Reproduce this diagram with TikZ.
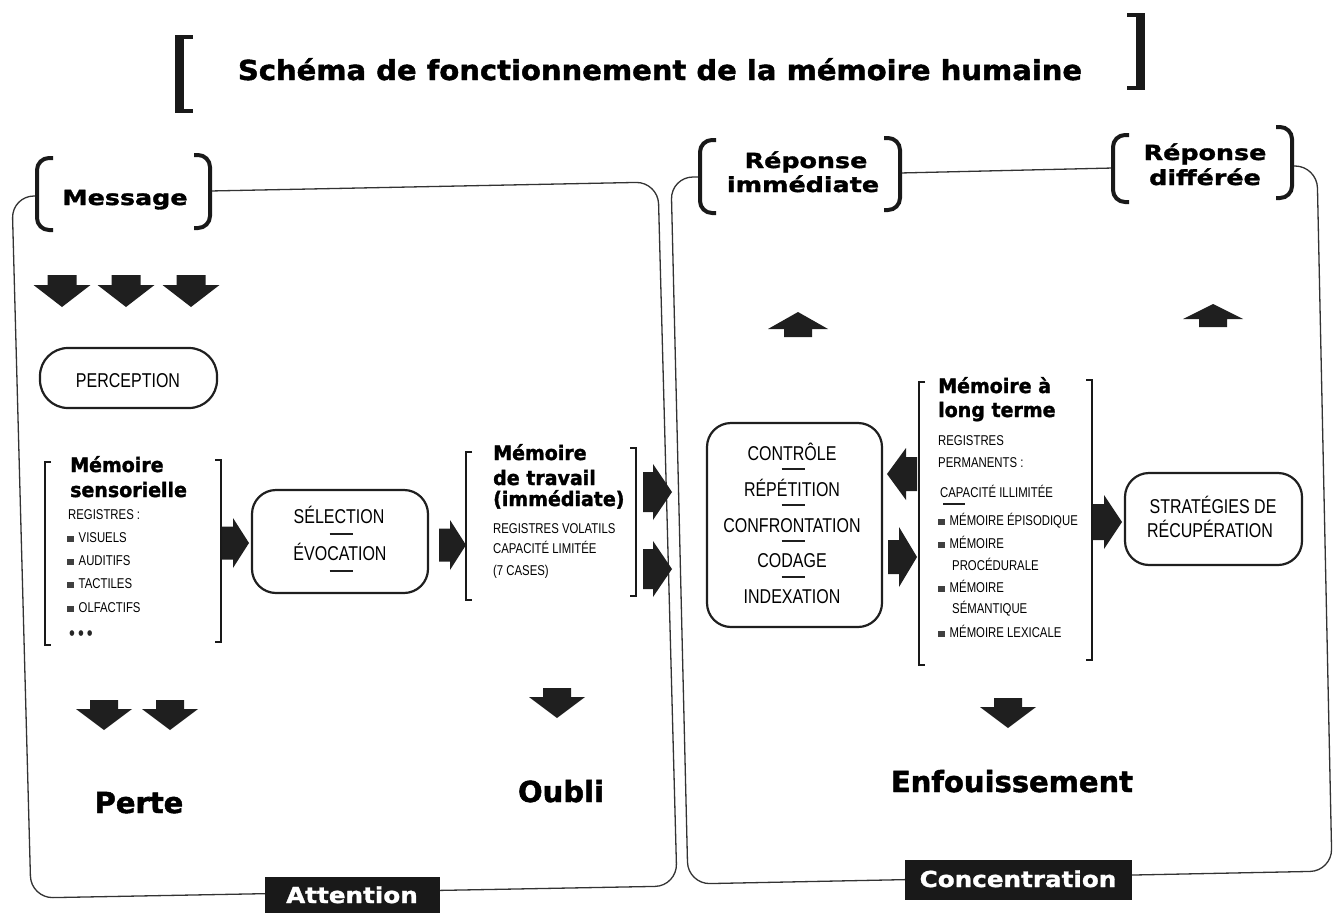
\documentclass[tikz,border=0pt]{standalone}
\usepackage{fontspec}
\setmainfont{Liberation Sans}
\newfontfamily\cnd[FakeStretch=0.8]{Liberation Sans}
\newfontfamily\hvbig[BoldFeatures={FakeBold=1.6}]{DejaVu Sans}
\newfontfamily\hvhead[FakeStretch=0.95,BoldFeatures={FakeBold=1.6}]{DejaVu Sans}
\newfontfamily\hvwide[FakeStretch=1.22,BoldFeatures={FakeBold=1.6}]{DejaVu Sans}
\newfontfamily\hvtitle[FakeStretch=1.055,BoldFeatures={FakeBold=1.6}]{DejaVu Sans}
\newfontfamily\hvtag[FakeStretch=1.12,BoldFeatures={FakeBold=1.4}]{DejaVu Sans}
\newcommand\sqb{{\color{black!75}\rule{6.5pt}{6.5pt}}\hspace{5pt}}
\begin{document}
\begin{tikzpicture}[x=1pt,y=-1pt,
  outline/.style={line width=1.3pt, draw=black!80, rounded corners=22pt},
  paren/.style={line width=4pt, draw=black!90, rounded corners=12pt},
  sqbr/.style={line width=2pt, draw=black!90},
  rbox/.style={draw=black!88, line width=2.2pt, rounded corners=24pt, inner sep=0pt},
  pill/.style={draw=black!88, line width=2.2pt, rounded corners=28pt, inner sep=0pt},
  bar/.style={line width=2.6pt, draw=black!88},
  capL/.style={font=\cnd\fontsize{20}{24}\selectfont, inner sep=0pt, anchor=base},
  capS/.style={font=\cnd\fontsize{14.2}{16}\selectfont, inner sep=0pt, anchor=base west},
  head/.style={font=\hvhead\bfseries\fontsize{20}{24}\selectfont, inner sep=0pt, anchor=base west},
  big/.style={font=\hvbig\bfseries\fontsize{29}{32}\selectfont, inner sep=0pt, anchor=base},
  wide/.style={font=\hvwide\bfseries\fontsize{20.8}{24}\selectfont, inner sep=0pt, anchor=base},
  ttl/.style={font=\hvtitle\bfseries\fontsize{27.5}{30}\selectfont, inner sep=0pt, anchor=base},
  tagbox/.style={fill=black!90, inner sep=0pt},
  tagtext/.style={font=\hvtag\bfseries\fontsize{22}{24}\selectfont, text=white, inner sep=0pt, anchor=base},
  arrowfill/.style={fill=black!88},
  blk len/.store in=\blkL, blk shaft/.store in=\blkS, blk sw/.store in=\blkW, blk hw/.store in=\blkH,
  blk len=32, blk shaft=10, blk sw=14.5, blk hw=28.5,
  blockarrow/.pic={\fill[arrowfill] (0,-\blkW) -- (\blkS,-\blkW) -- (\blkS,-\blkH) -- (\blkL,0) -- (\blkS,\blkH) -- (\blkS,\blkW) -- (0,\blkW) -- cycle;},
  harrow/.style={blk len=27, blk shaft=11, blk sw=16.5, blk hw=25},
]
\useasboundingbox (0,0) rectangle (1333,913);

% ---------- title ----------
\node[ttl] (title) at (660,80) {Schéma de fonctionnement de la mémoire humaine};
\fill[black!90] (175,35) rectangle (184,113);
\fill[black!90] (175,35) rectangle (193,39);
\fill[black!90] (175,109) rectangle (193,113);
\fill[black!90] (1136,13) rectangle (1145,90);
\fill[black!90] (1127,13) rectangle (1145,17);
\fill[black!90] (1127,86) rectangle (1145,90);

% ---------- outlines ----------
\coordinate (msgL) at (37,196);
\coordinate (msgR) at (210,191);
\coordinate (riL) at (700,177);
\coordinate (riR) at (900,173);
\coordinate (rdL) at (1113,168);
\coordinate (rdR) at (1292,166);
\draw[outline] (msgR) -- (658,182) -- (677,886) -- (31,898) -- (12,196) -- (msgL);
\draw[outline] (riR) -- (rdL);
\draw[outline] (rdR) -- (1317,166) -- (1332,871) -- (688,884) -- (671,177) -- (riL);

% ---------- Message ----------
\node[wide] (msg) at (125,205) {Message};
\draw[paren] (53,158) -- (37,158) -- (37,230) -- (53,230);
\draw[paren] (194,155) -- (210,155) -- (210,228) -- (194,228);
\pic[rotate=-90] (ma1) at (62,275) {blockarrow};
\pic[rotate=-90] (ma2) at (126,275) {blockarrow};
\pic[rotate=-90] (ma3) at (191,275) {blockarrow};

% ---------- Perception ----------
\node[pill, minimum width=177pt, minimum height=60pt] (percbox) at (128.5,378) {};
\node[capL] (perc) at (128,387) {PERCEPTION};

% ---------- Mémoire sensorielle ----------
\draw[sqbr] (51,462) -- (45,462) -- (45,645) -- (51,645);
\draw[sqbr] (215,460) -- (221,460) -- (221,642) -- (215,642);
\node[head] (ms1) at (70,472) {Mémoire};
\node[head] (ms2) at (70,497) {sensorielle};
\node[capS] (ms3) at (68,519) {REGISTRES :};
\node[capS] (ms4) at (67,542) {\sqb VISUELS};
\node[capS] (ms5) at (67,565) {\sqb AUDITIFS};
\node[capS] (ms6) at (67,588) {\sqb TACTILES};
\node[capS] (ms7) at (67,612) {\sqb OLFACTIFS};
\node[capS, font=\cnd\fontsize{21}{22}\selectfont, text=black!85] (ms8) at (69,640) {•\hspace{3pt}•\hspace{3pt}•};
\pic[harrow] (sa1) at (222,543) {blockarrow};

% ---------- Sélection ----------
\node[rbox, minimum width=176pt, minimum height=103pt] (selbox) at (340,541.5) {};
\node[capL] (sel) at (339,523) {SÉLECTION};
\draw[bar] (329.5,534) -- (352.5,534);
\node[capL] (evo) at (340,560) {ÉVOCATION};
\draw[bar] (329.5,571) -- (352.5,571);
\pic[harrow] (sa2) at (439,545) {blockarrow};

% ---------- Mémoire de travail ----------
\draw[sqbr] (472,452) -- (466,452) -- (466,600) -- (472,600);
\draw[sqbr] (630,448) -- (636,448) -- (636,596) -- (630,596);
\node[head] (mt1) at (493,460) {Mémoire};
\node[head] (mt2) at (493,485) {de travail};
\node[head] (mt3) at (493,506) {(immédiate)};
\node[capS] (mt4) at (493,533) {REGISTRES VOLATILS};
\node[capS] (mt5) at (493,553) {CAPACITÉ LIMITÉE};
\node[capS] (mt6) at (493,575) {(7 CASES)};
\pic[blk len=29, blk shaft=10, blk sw=20, blk hw=28] (ta1) at (643,492) {blockarrow};
\pic[blk len=29, blk shaft=10, blk sw=20, blk hw=28] (ta2) at (643,569) {blockarrow};

% ---------- Perte / Oubli ----------
\pic[rotate=-90, blk len=30, blk shaft=9, blk sw=14, blk hw=28] (pa1) at (104,700) {blockarrow};
\pic[rotate=-90, blk len=30, blk shaft=9, blk sw=14, blk hw=28] (pa2) at (170,700) {blockarrow};
\pic[rotate=-90, blk len=30, blk shaft=9, blk sw=14, blk hw=28] (oa1) at (557,688) {blockarrow};
\node[big] (perte) at (139,813) {Perte};
\node[big] (oubli) at (561,802) {Oubli};

% ---------- Attention ----------
\node[tagbox, minimum width=175pt, minimum height=36pt] (attbox) at (352.5,895) {};
\node[tagtext] (att) at (352,903) {Attention};

% ---------- Réponses ----------
\draw[paren] (716,140) -- (700,140) -- (700,213) -- (716,213);
\draw[paren] (884,138) -- (900,138) -- (900,210) -- (884,210);
\node[wide] (ri1) at (806,168) {Réponse};
\node[wide] (ri2) at (803,192) {immédiate};
\draw[paren] (1129,135) -- (1113,135) -- (1113,202) -- (1129,202);
\draw[paren] (1276,127) -- (1292,127) -- (1292,198) -- (1276,198);
\node[wide] (rd1) at (1205,160) {Réponse};
\node[wide] (rd2) at (1205,185) {différée};
\pic[rotate=90, blk len=25, blk shaft=8, blk sw=14, blk hw=30] (ua1) at (798,337) {blockarrow};
\pic[rotate=90, blk len=23, blk shaft=8, blk sw=14, blk hw=30] (ua2) at (1213,327) {blockarrow};

% ---------- Contrôle ----------
\node[rbox, minimum width=175pt, minimum height=204pt] (ctlbox) at (794.5,525) {};
\node[capL] (c1) at (792,460) {CONTRÔLE};
\draw[bar] (781.5,469) -- (804.5,469);
\node[capL] (c2) at (792,496) {RÉPÉTITION};
\draw[bar] (781.5,505) -- (804.5,505);
\node[capL] (c3) at (792,532) {CONFRONTATION};
\draw[bar] (781.5,541) -- (804.5,541);
\node[capL] (c4) at (792,567) {CODAGE};
\draw[bar] (781.5,577) -- (804.5,577);
\node[capL] (c5) at (792,603) {INDEXATION};
\pic[rotate=180, blk len=30, blk shaft=11, blk sw=17, blk hw=26] (la1) at (917,474) {blockarrow};
\pic[blk len=29, blk shaft=11, blk sw=17, blk hw=30] (la2) at (888,557) {blockarrow};

% ---------- Mémoire à long terme ----------
\draw[sqbr] (925,382) -- (919,382) -- (919,665) -- (925,665);
\draw[sqbr] (1086,380) -- (1092,380) -- (1092,660) -- (1086,660);
\node[head] (lt1) at (938,393) {Mémoire à};
\node[head] (lt2) at (938,417) {long terme};
\node[capS] (lt3) at (938,445) {REGISTRES};
\node[capS] (lt4) at (938,467) {PERMANENTS :};
\node[capS] (lt5) at (940,497) {CAPACITÉ ILLIMITÉE};
\draw[bar] (943,504) -- (965,504);
\node[capS] (lt6) at (938,525) {\sqb MÉMOIRE ÉPISODIQUE};
\node[capS] (lt7) at (938,548) {\sqb MÉMOIRE};
\node[capS] (lt8) at (952,570) {PROCÉDURALE};
\node[capS] (lt9) at (938,592) {\sqb MÉMOIRE};
\node[capS] (lt10) at (952,613) {SÉMANTIQUE};
\node[capS] (lt11) at (938,637) {\sqb MÉMOIRE LEXICALE};
\pic[blk len=29, blk shaft=11, blk sw=18, blk hw=27] (ra1) at (1093,522) {blockarrow};

% ---------- Stratégies ----------
\node[rbox, minimum width=177pt, minimum height=92pt] (strbox) at (1213.5,519) {};
\node[capL] (s1) at (1213,513) {STRATÉGIES DE};
\node[capL] (s2) at (1210,537) {RÉCUPÉRATION};

% ---------- Enfouissement / Concentration ----------
\pic[rotate=-90, blk len=30, blk shaft=9, blk sw=14, blk hw=28] (ea1) at (1008,698) {blockarrow};
\node[big] (enf) at (1012,792) {Enfouissement};
\node[tagbox, minimum width=227pt, minimum height=40pt] (conbox) at (1018.5,880) {};
\node[tagtext] (con) at (1018,887) {Concentration};
\end{tikzpicture}
\end{document}
